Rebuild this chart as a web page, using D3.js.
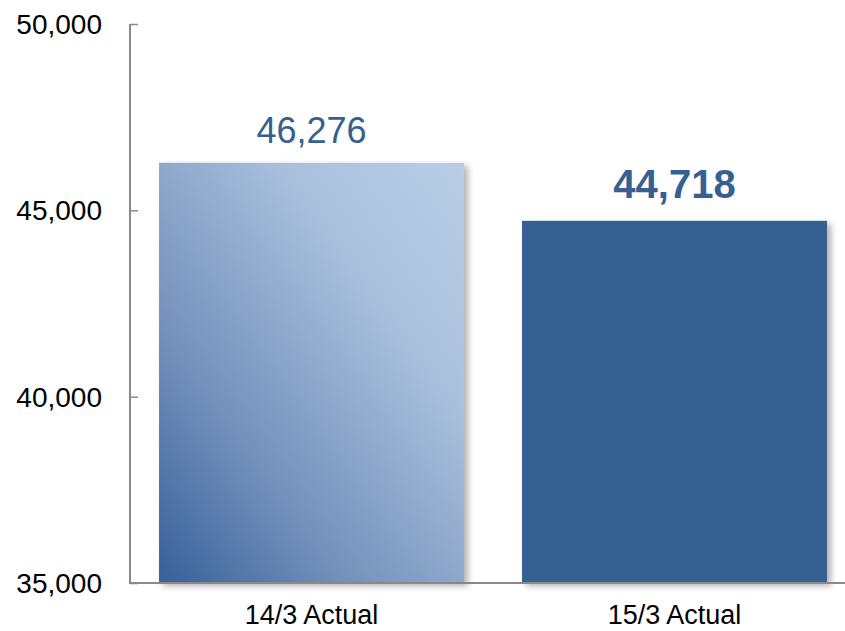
<!DOCTYPE html>
<html>
<head>
<meta charset="utf-8">
<script src="https://cdn.jsdelivr.net/npm/d3@7"></script>
<style>
  html, body { margin: 0; padding: 0; background: #fff; }
  svg { display: block; font-family: "Liberation Sans", Arial, sans-serif; }
</style>
</head>
<body>
<svg id="chart" width="845" height="631"></svg>
<script>
const categories = ['14/3 Actual', '15/3 Actual'];
const values = [46276, 44718];
const yTicks = [35000, 40000, 45000, 50000];
const yDomain = [35000, 50000];

const W = 845, H = 631;
const AXIS_X = 130;
const AXIS_COLOR = '#898989';
const BLUE = '#366092';

const svg = d3.select('#chart');

const x = d3.scaleBand()
    .domain(categories)
    .range([AXIS_X, 856])
    .paddingInner(0.16)
    .paddingOuter(0.08);

const y = d3.scaleLinear()
    .domain(yDomain)
    .range([583, 24]);

const defs = svg.append('defs');

// diagonal gradient for the first bar
const grad = defs.append('linearGradient')
    .attr('id', 'barGrad')
    .attr('x1', 0).attr('y1', 1)
    .attr('x2', 1).attr('y2', 0);
grad.append('stop').attr('offset', '0%').attr('stop-color', '#37609a');
grad.append('stop').attr('offset', '30%').attr('stop-color', '#7390bb');
grad.append('stop').attr('offset', '70%').attr('stop-color', '#a9c0dd');
grad.append('stop').attr('offset', '100%').attr('stop-color', '#bacee6');

const shadow = defs.append('filter')
    .attr('id', 'shadow')
    .attr('x', '-10%').attr('y', '-10%')
    .attr('width', '130%').attr('height', '130%');
shadow.append('feDropShadow')
    .attr('dx', 4).attr('dy', 3)
    .attr('stdDeviation', 3)
    .attr('flood-color', '#000')
    .attr('flood-opacity', 0.3);

// bars
svg.append('g')
  .selectAll('rect')
  .data(values)
  .join('rect')
    .attr('x', (d, i) => x(categories[i]))
    .attr('y', d => y(d))
    .attr('width', x.bandwidth())
    .attr('height', d => y(yDomain[0]) - y(d))
    .attr('fill', (d, i) => i === 0 ? 'url(#barGrad)' : BLUE)
    .attr('filter', 'url(#shadow)');

// value labels
svg.append('g')
  .selectAll('text')
  .data(values)
  .join('text')
    .attr('x', (d, i) => x(categories[i]) + x.bandwidth() / 2)
    .attr('y', (d, i) => y(d) - (i === 0 ? 20 : 23))
    .attr('text-anchor', 'middle')
    .attr('fill', BLUE)
    .attr('font-size', (d, i) => i === 0 ? 36 : 40)
    .attr('font-weight', (d, i) => i === 0 ? 'normal' : 'bold')
    .text(d => d3.format(',')(d));

// y axis (ticks point inward)
const yAxis = svg.append('g')
    .attr('transform', `translate(${AXIS_X},0)`)
    .call(d3.axisRight(y).tickValues(yTicks).tickSize(8).tickFormat(''));
yAxis.select('.domain').remove();
yAxis.selectAll('line')
    .attr('stroke', AXIS_COLOR).attr('stroke-width', 1.5);

svg.append('line')
    .attr('x1', AXIS_X).attr('y1', y(yDomain[1]))
    .attr('x2', AXIS_X).attr('y2', y(yDomain[0]) + 1)
    .attr('stroke', AXIS_COLOR).attr('stroke-width', 2);

// tick labels
svg.append('g')
  .selectAll('text')
  .data(yTicks)
  .join('text')
    .attr('x', AXIS_X - 28)
    .attr('y', d => y(d) + 10)
    .attr('text-anchor', 'end')
    .attr('font-size', 28)
    .attr('fill', '#000')
    .text(d => d3.format(',')(d));

// x axis line
svg.append('line')
    .attr('x1', AXIS_X - 1).attr('y1', y(yDomain[0]))
    .attr('x2', W).attr('y2', y(yDomain[0]))
    .attr('stroke', AXIS_COLOR).attr('stroke-width', 2);

// category labels
svg.append('g')
  .selectAll('text')
  .data(categories)
  .join('text')
    .attr('x', d => x(d) + x.bandwidth() / 2)
    .attr('y', 624)
    .attr('text-anchor', 'middle')
    .attr('font-size', 27)
    .attr('fill', '#000')
    .text(d => d);
</script>
</body>
</html>
